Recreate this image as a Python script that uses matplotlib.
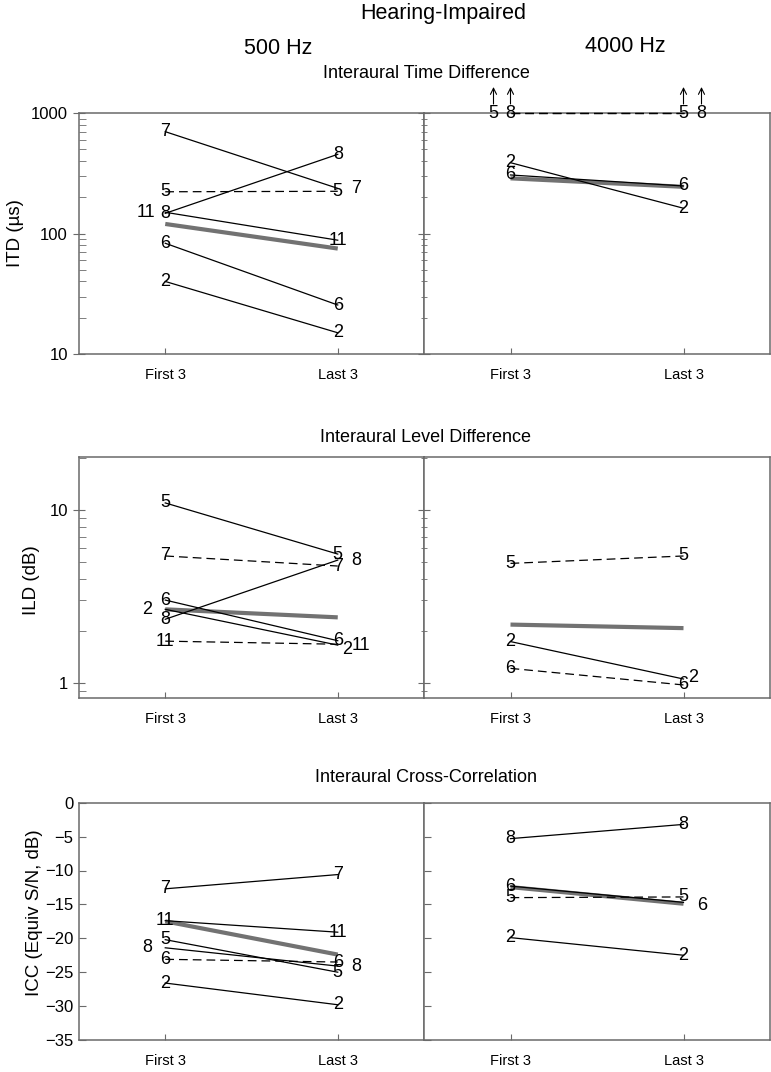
"""Hearing-impaired listeners: first vs last 3 sessions, per cue and frequency."""

import matplotlib
matplotlib.use('Agg')
import matplotlib.pyplot as plt
from matplotlib.ticker import FuncFormatter, NullFormatter, LogLocator, MultipleLocator
from matplotlib.transforms import offset_copy

plt.rcParams['font.family'] = ['Liberation Sans', 'DejaVu Sans']
plt.rcParams['font.size'] = 11

W, H = 771, 1072

SESSIONS = ['First 3', 'Last 3']

# --- ITD, 500 Hz
itd500_subj = ['7', '5', '8', '11', '6', '2']
itd500_first = [700, 222, 147, 150, 83, 40]
itd500_last = [237, 224, 454, 88, 25.5, 15]
itd500_mean = [120, 75]

# --- ITD, 4000 Hz (5 and 8 are off scale, >= 1000)
itd4k_subj = ['5', '8', '2', '6']
itd4k_first = [1000, 1000, 387, 306]
itd4k_last = [1000, 1000, 162, 248]
itd4k_mean = [287, 244]

# --- ILD, 500 Hz
ild500_subj = ['5', '7', '8', '6', '2', '11']
ild500_first = [11.0, 5.42, 2.33, 3.01, 2.66, 1.74]
ild500_last = [5.56, 4.74, 5.13, 1.75, 1.65, 1.67]
ild500_mean = [2.66, 2.39]

# --- ILD, 4000 Hz
ild4k_subj = ['5', '2', '6']
ild4k_first = [4.91, 1.73, 1.21]
ild4k_last = [5.42, 1.05, 0.97]
ild4k_mean = [2.17, 2.07]

# --- ICC, 500 Hz
icc500_subj = ['7', '11', '5', '8', '6', '2']
icc500_first = [-12.7, -17.4, -20.2, -21.4, -23.1, -26.6]
icc500_last = [-10.6, -19.1, -25.0, -24.1, -23.5, -29.8]
icc500_mean = [-17.5, -22.4]

# --- ICC, 4000 Hz
icc4k_subj = ['8', '6', '5', '2']
icc4k_first = [-5.3, -12.3, -14.0, -19.9]
icc4k_last = [-3.2, -14.7, -13.9, -22.5]
icc4k_mean = [-12.45, -14.9]

# styles: which subjects are drawn dashed, and label nudges in pixels
DASHED = {
    'itd500': {'5'}, 'itd4k': {'5', '8'},
    'ild500': {'7', '11'}, 'ild4k': {'5', '6'},
    'icc500': {'6'}, 'icc4k': {'5'},
}
NUDGE = {
    'itd500': {('11', 0): (-19, 0), ('7', 1): (18, 0)},
    'itd4k': {('5', 0): (-17, 0), ('8', 1): (18, 0)},
    'ild500': {('2', 0): (-18, 0), ('8', 1): (18, 0), ('2', 1): (9, -4), ('11', 1): (23, -1)},
    'ild4k': {('2', 1): (10, 2)},
    'icc500': {('8', 0): (-18, 0), ('8', 1): (18, 0)},
    'icc4k': {('6', 1): (19, -3)},
}
ARROWS = {'itd4k': ['5', '8']}

SPINE = '#6a6a6a'
MEAN_CLR = '#727272'


def make_axes(fig, top_px, bot_px):
    left = 79 / W
    mid = 424 / W
    right = 770 / W
    b = 1 - bot_px / H
    h = (bot_px - top_px) / H
    ax1 = fig.add_axes([left, b, mid - left, h])
    ax2 = fig.add_axes([mid, b, right - mid, h])
    return ax1, ax2


def style_axes(ax, show_labels):
    for s in ax.spines.values():
        s.set_color(SPINE)
        s.set_linewidth(1.1)
    ax.set_xlim(0.5, 2.5)
    ax.set_xticks([1, 2])
    ax.set_xticklabels(SESSIONS, fontsize=10.5)
    ax.tick_params(axis='x', direction='in', length=4, color=SPINE, pad=10)
    ax.tick_params(axis='y', which='major', direction='inout', length=8, color=SPINE,
                   labelleft=show_labels, pad=4, labelsize=12)
    ax.tick_params(axis='y', which='minor', direction='inout' if not show_labels else 'in',
                   length=5, color=SPINE)


def draw_panel(ax, key, subj, first, last, mean):
    xs = [1, 2]
    ax.plot(xs, mean, color=MEAN_CLR, lw=3.0, solid_capstyle='butt', zorder=2)
    for s, f, l in zip(subj, first, last):
        dashed = s in DASHED.get(key, set())
        ax.plot(xs, [f, l], color='black', lw=0.9,
                ls=(0, (7, 4)) if dashed else '-', zorder=3, clip_on=False)
        for i, v in enumerate([f, l]):
            dx, dy = NUDGE.get(key, {}).get((s, i), (0, 0))
            ax.annotate(s, xy=(xs[i], v), xytext=(dx, dy), textcoords='offset pixels',
                        ha='center', va='center', fontsize=13, zorder=4,
                        annotation_clip=False)
            if s in ARROWS.get(key, []):
                head = offset_copy(ax.transData, fig=ax.figure, x=dx, y=26, units='dots')
                tail = offset_copy(ax.transData, fig=ax.figure, x=dx, y=9, units='dots')
                ax.annotate('', xy=(xs[i], v), xycoords=head,
                            xytext=(xs[i], v), textcoords=tail,
                            arrowprops=dict(arrowstyle='->', lw=0.8, color='black',
                                            shrinkA=0, shrinkB=0),
                            annotation_clip=False)


fig = plt.figure(figsize=(W / 100, H / 100), dpi=100)

log_fmt = FuncFormatter(lambda v, p: f'{v:g}')

# ITD row
a1, a2 = make_axes(fig, 113, 354)
for ax, show in ((a1, True), (a2, False)):
    ax.set_yscale('log')
    ax.set_ylim(10, 1000)
    ax.yaxis.set_major_locator(LogLocator(base=10))
    ax.yaxis.set_minor_locator(LogLocator(base=10, subs=range(2, 10)))
    ax.yaxis.set_major_formatter(log_fmt)
    ax.yaxis.set_minor_formatter(NullFormatter())
    style_axes(ax, show)
draw_panel(a1, 'itd500', itd500_subj, itd500_first, itd500_last, itd500_mean)
draw_panel(a2, 'itd4k', itd4k_subj, itd4k_first, itd4k_last, itd4k_mean)

# ILD row
b1, b2 = make_axes(fig, 457, 698)
for ax, show in ((b1, True), (b2, False)):
    ax.set_yscale('log')
    ax.set_ylim(0.815, 20.3)
    ax.yaxis.set_major_locator(LogLocator(base=10))
    ax.yaxis.set_minor_locator(LogLocator(base=10, subs=range(2, 10)))
    ax.yaxis.set_major_formatter(log_fmt)
    ax.yaxis.set_minor_formatter(NullFormatter())
    style_axes(ax, show)
draw_panel(b1, 'ild500', ild500_subj, ild500_first, ild500_last, ild500_mean)
draw_panel(b2, 'ild4k', ild4k_subj, ild4k_first, ild4k_last, ild4k_mean)

# ICC row
c1, c2 = make_axes(fig, 802.7, 1040)
for ax, show in ((c1, True), (c2, False)):
    ax.set_ylim(-35, 0)
    ax.yaxis.set_major_locator(MultipleLocator(5))
    style_axes(ax, show)
    ax.tick_params(axis='y', which='major', direction='in', length=5)
draw_panel(c1, 'icc500', icc500_subj, icc500_first, icc500_last, icc500_mean)
draw_panel(c2, 'icc4k', icc4k_subj, icc4k_first, icc4k_last, icc4k_mean)

# titles and y labels
fig.text(443 / W, 1 - 14 / H, 'Hearing-Impaired', ha='center', va='center', fontsize=15.5)
fig.text(278 / W, 1 - 49 / H, '500 Hz', ha='center', va='center', fontsize=15.5)
fig.text(625 / W, 1 - 47 / H, '4000 Hz', ha='center', va='center', fontsize=15.5)
fig.text(426 / W, 1 - 74 / H, 'Interaural Time Difference', ha='center', va='center', fontsize=13)
fig.text(426 / W, 1 - 438 / H, 'Interaural Level Difference', ha='center', va='center', fontsize=13)
fig.text(426 / W, 1 - 778 / H, 'Interaural Cross-Correlation', ha='center', va='center', fontsize=13)

fig.text(15 / W, 1 - 233 / H, 'ITD (\u00b5s)', rotation=90, ha='center', va='center', fontsize=13.5)
fig.text(31 / W, 1 - 580 / H, 'ILD (dB)', rotation=90, ha='center', va='center', fontsize=13.5)
fig.text(35 / W, 1 - 913 / H, 'ICC (Equiv S/N, dB)', rotation=90, ha='center', va='center', fontsize=13.5)

fig.savefig('out.png', dpi=100)
